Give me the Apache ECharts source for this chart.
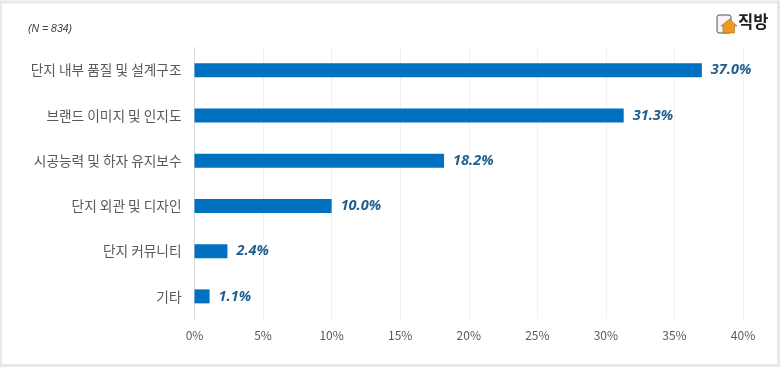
<!DOCTYPE html>
<html><head><meta charset="utf-8">
<style>html,body{margin:0;padding:0;background:#fff}#c{width:780px;height:367px}</style>
<script src="https://cdn.jsdelivr.net/npm/echarts@6/dist/echarts.min.js"></script>
</head><body><div id="c"></div>
<script>
const categories = ['단지 내부 품질 및 설계구조','브랜드 이미지 및 인지도','시공능력 및 하자 유지보수','단지 외관 및 디자인','단지 커뮤니티','기타'];
const values = [37.0,31.3,18.2,10.0,2.4,1.1];
const note = '(N = 834)';
const brand = '직방';
const font = '"Noto Sans CJK KR","Noto Sans",sans-serif';
const chart = echarts.init(document.getElementById('c'),null,{renderer:'canvas'});
chart.setOption({
  animation:false,
  backgroundColor:'#ffffff',
  grid:{left:194.5,right:37,top:47.5,bottom:48,containLabel:false},
  xAxis:{type:'value',min:0,max:40,interval:5,
    axisLine:{show:false},axisTick:{show:false},
    axisLabel:{formatter:'{value}%',color:'#595959',fontSize:12,margin:10,fontFamily:font},
    splitLine:{show:true,lineStyle:{color:'#f0f0f0',width:1}}},
  yAxis:{type:'category',inverse:true,data:categories,
    axisLine:{show:true,lineStyle:{color:'#d9d9d9',width:1}},axisTick:{show:false},
    axisLabel:{color:'#595959',fontSize:13.7,margin:13,fontFamily:font}},
  series:[{type:'bar',data:values,barWidth:14,itemStyle:{color:'#0070c0'},
    label:{show:true,position:'right',distance:9,formatter:p=>p.value.toFixed(1)+'%',
      color:'#1f5f8f',fontSize:14.5,fontWeight:'bold',fontStyle:'italic',fontFamily:'"Open Sans",'+font}}],
  graphic:[
    {type:'rect',silent:true,z:100,shape:{x:0.5,y:2,width:778,height:363.5},style:{fill:'none',stroke:'#e8e8e8',lineWidth:3}},
    {type:'text',z:100,left:28,top:24,style:{text:note,fill:'#404040',font:'italic 10.5px "Liberation Sans",sans-serif'}},
    {type:'text',z:100,left:738,top:13,style:{text:brand,fill:'#222222',font:'bold 16.5px '+font}},
    {type:'rect',z:100,shape:{x:717,y:15,width:14,height:18,r:2},style:{fill:'#f4f4f4',stroke:'#555555',lineWidth:1}},
    {type:'polygon',z:101,shape:{points:[[729.5,19],[737,26],[734.5,26],[734.5,33],[723,33],[723,26],[721,26]]},style:{fill:'#ee9a22',stroke:'#8a5a10',lineWidth:0.5}}
  ]
});
</script></body></html>
